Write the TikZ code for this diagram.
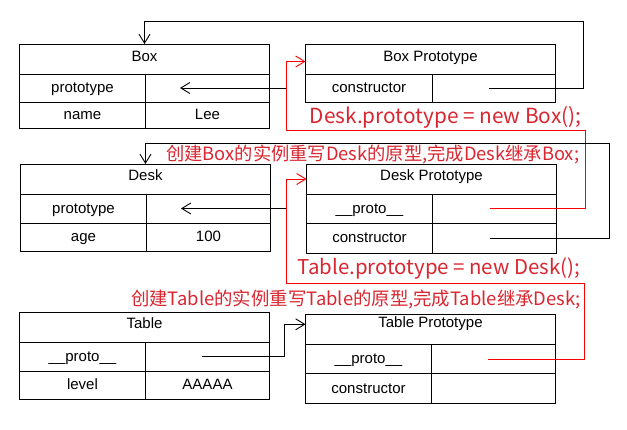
\documentclass[tikz,border=0pt]{standalone}
\usepackage{fontspec}
\setmainfont{Liberation Sans}
\newfontfamily\cjk{Noto Sans CJK SC}
\usetikzlibrary{arrows.meta,calc}
\definecolor{redtxt}{RGB}{218,38,48}
\definecolor{redln}{RGB}{250,0,0}
\begin{document}
\begin{tikzpicture}[x=1pt,y=-1pt,
  cell/.style={draw=black, line width=0.9pt, anchor=north west, inner sep=0pt, outer sep=0pt,
    minimum width=#1, text height=10pt, text depth=0.5pt, font=\fontsize{15}{17}\selectfont},
  head/.style={text depth=5pt},
  blk/.style={draw=black, line width=0.9pt},
  redl/.style={draw=redln, line width=0.9pt},
  arr/.style={-{Straight Barb[length=9pt,width=11pt]}},
  redtext/.style={anchor=base east, text=redtxt, inner sep=0pt, font=\cjk\fontsize{18.3}{22}\selectfont}
]
\fill[white] (0,0) rectangle (627,429);
\useasboundingbox (0,0) rectangle (627,429);

% ---------- Box ----------
\node[cell=250pt, minimum height=30pt, head] (box) at (19.5,44) {Box};
\node[cell=126pt, minimum height=28pt] (boxp) at (19.5,74) {prototype};
\node[cell=124pt, minimum height=28pt] (boxpv) at (145.5,74) {};
\node[cell=126pt, minimum height=26pt] (boxn) at (19.5,102) {name};
\node[cell=124pt, minimum height=26pt] (boxnv) at (145.5,102) {Lee};

% ---------- Box Prototype ----------
\node[cell=250pt, minimum height=30pt, head] (bp) at (305.5,44) {Box Prototype};
\node[cell=127pt, minimum height=28pt] (bpc) at (305.5,74) {constructor};
\node[cell=123pt, minimum height=28pt] (bpcv) at (432.5,74) {};

% ---------- Desk ----------
\node[cell=250pt, minimum height=30pt, text depth=8pt] (desk) at (20.5,164) {Desk};
\node[cell=126pt, minimum height=29pt] (deskp) at (20.5,194) {prototype};
\node[cell=124pt, minimum height=29pt] (deskpv) at (146.5,194) {};
\node[cell=126pt, minimum height=28pt] (deska) at (20.5,223) {age};
\node[cell=124pt, minimum height=28pt] (deskav) at (146.5,223) {100};

% ---------- Desk Prototype ----------
\node[cell=250pt, minimum height=30pt, text depth=7pt] (dp) at (306.5,164) {Desk Prototype};
\node[cell=126pt, minimum height=29pt] (dpp) at (306.5,194) {\_\_proto\_\_};
\node[cell=124pt, minimum height=29pt] (dppv) at (432.5,194) {};
\node[cell=126pt, minimum height=30pt] (dpc) at (306.5,223) {constructor};
\node[cell=124pt, minimum height=30pt] (dpcv) at (432.5,223) {};

% ---------- Table ----------
\node[cell=250pt, minimum height=30pt, text depth=8pt] (tab) at (19.5,312.5) {Table};
\node[cell=126pt, minimum height=28.5pt] (tabp) at (19.5,342.5) {\_\_proto\_\_};
\node[cell=124pt, minimum height=28.5pt] (tabpv) at (145.5,342.5) {};
\node[cell=126pt, minimum height=28pt] (tabl) at (19.5,371) {level};
\node[cell=124pt, minimum height=28pt] (tablv) at (145.5,371) {AAAAA};

% ---------- Table Prototype ----------
\node[cell=250pt, minimum height=30pt, text depth=14pt] (tp) at (305.5,314.5) {Table Prototype};
\node[cell=126pt, minimum height=29pt] (tpp) at (305.5,344.5) {\_\_proto\_\_};
\node[cell=124pt, minimum height=29pt] (tppv) at (431.5,344.5) {};
\node[cell=126pt, minimum height=29.5pt] (tpc) at (305.5,373.5) {constructor};
\node[cell=124pt, minimum height=29.5pt] (tpcv) at (431.5,373.5) {};

% ---------- red texts ----------
\node[redtext, font=\cjk\fontsize{20.8}{22}\selectfont] (t1) at (581.5,123.5) {Desk.prototype = new Box();};
\node[redtext] (t2) at (579.5,160.5) {创建Box的实例重写Desk的原型,完成Desk继承Box;};
\node[redtext, font=\cjk\fontsize{20.4}{22}\selectfont] (t3) at (580,274) {Table.prototype = new Desk();};
\node[redtext, font=\cjk\fontsize{18.4}{22}\selectfont] (t4) at (581,305) {创建Table的实例重写Table的原型,完成Table继承Desk;};

% ---------- helper coordinates ----------
\coordinate (r1a) at (585,130);
\coordinate (r1b) at (286,130);
\coordinate (b2) at (609,143.3);
\coordinate (r2a) at (584,283.3);
\coordinate (r2b) at (286,283.3);

% ---------- connectors ----------
\draw[blk,arr] ([xshift=-5pt]bpcv.center) -- ++(94,0) |- ([yshift=22.3pt]box.north) -- (box.north);
\draw[blk,arr] ([xshift=-19.5pt]bpc.west) -- ([xshift=34.5pt]boxpv.west);
\draw[redl,arr] ([xshift=-5pt]dppv.center) -| (r1a) -- (r1b) |- ([yshift=-2.5pt]bp.west);
\draw[blk,arr] ([xshift=-4.5pt]dpcv.center) -| (b2) -| (desk.north);
\draw[blk,arr] ([xshift=-20.5pt]dpp.west) -- ([xshift=34.5pt]deskpv.west);
\draw[redl,arr] ([xshift=-6pt]tppv.center) -| (r2a) -- (r2b) |- (dp.west);
\draw[blk,arr] ([xshift=-5.5pt]tabpv.center) -- ++(82.5,0) |- ([yshift=5.2pt]tp.west);
\end{tikzpicture}
\end{document}
